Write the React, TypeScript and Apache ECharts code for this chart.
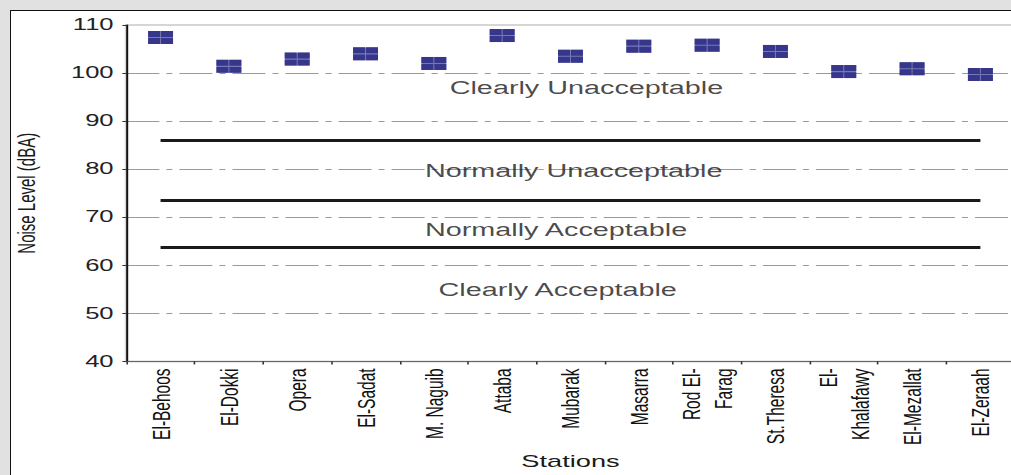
import React, { useEffect, useRef } from "react";
import * as echarts from "echarts";

// ---- data ----
const stations = [
  "El-Behoos",
  "El-Dokki",
  "Opera",
  "El-Sadat",
  "M. Naguib",
  "Attaba",
  "Mubarak",
  "Masarra",
  "Rod El-\nFarag",
  "St.Theresa",
  "El-\nKhalafawy",
  "El-Mezallat",
  "El-Zeraah",
];
const noiseLevels = [107.4, 101.4, 102.9, 104.0, 102.0, 107.8, 103.5, 105.6, 105.8, 104.5, 100.3, 100.9, 99.7];
const thresholds = [86, 73.5, 63.7];
const zoneNames = ["Clearly Unacceptable", "Normally Unacceptable", "Normally Acceptable", "Clearly Acceptable"];
const zoneValues = [97.0, 79.8, 67.5, 54.9];
const zoneAnchor = "Mubarak";
const yMin = 40;
const yMax = 110;
const yStep = 10;

// ---- layout (the source picture is stretched horizontally) ----
const STRETCH = 1.6;
const NAT_W = 640;
const H = 475;
const zoneOffsets = [10, 2, -9, -8];
const FONT = "'Liberation Sans', Arial, sans-serif";

const markerFront =
  "path://M0,0H11.5V5.5H0Z M12.5,0H24V5.5H12.5Z M0,6.5H11.5V12H0Z M12.5,6.5H24V12H12.5Z";

export default function App() {
  const ref = useRef<HTMLDivElement>(null);

  useEffect(() => {
    if (!ref.current) return;
    const chart = echarts.init(ref.current, undefined, { renderer: "svg" });
    const first = stations[0];
    const last = stations[stations.length - 1];
    chart.setOption({
      animation: false,
      backgroundColor: "transparent",
      textStyle: { fontFamily: FONT },
      grid: {
        left: 79,
        right: NAT_W - 634.1,
        top: 25,
        bottom: H - 366.7,
        show: true,
        borderColor: "#d6d6d6",
        borderWidth: 2,
        backgroundColor: "transparent",
      },
      xAxis: {
        type: "category",
        data: stations,
        boundaryGap: true,
        name: "Stations",
        nameLocation: "middle",
        nameGap: 90,
        nameTextStyle: { fontSize: 17, color: "#1a1a1a", fontFamily: FONT },
        axisLine: { lineStyle: { color: "#666", width: 1 } },
        axisTick: { show: true, length: 3, lineStyle: { color: "#333" } },
        axisLabel: {
          rotate: 90,
          interval: 0,
          fontSize: 15.5,
          lineHeight: 20,
          margin: 7,
          color: "#111",
          fontFamily: FONT,
        },
        splitLine: { show: false },
      },
      yAxis: {
        type: "value",
        min: yMin,
        max: yMax,
        interval: yStep,
        name: "Noise Level (dBA)",
        nameLocation: "middle",
        nameGap: 55,
        nameTextStyle: { fontSize: 15, color: "#1a1a1a", fontFamily: FONT },
        axisLine: { show: true, lineStyle: { color: "#111", width: 1.25 } },
        axisTick: { show: true, length: 2.5, lineStyle: { color: "#333" } },
        axisLabel: { fontSize: 16, color: "#222", margin: 8, fontFamily: FONT },
        splitLine: {
          show: true,
          showMinLine: false,
          showMaxLine: false,
          lineStyle: { color: "#9a9a9a", width: 1, type: [20.6, 4.4, 3.75, 4.4] },
        },
      },
      series: [
        {
          name: "Thresholds",
          type: "line",
          data: [],
          silent: true,
          markLine: {
            silent: true,
            symbol: ["none", "none"],
            label: { show: false },
            lineStyle: { color: "#1a1a1a", width: 3, type: "solid" },
            data: thresholds.map((v) => [
              { coord: [first, v] },
              { coord: [last, v] },
            ]),
          },
        },
        {
          name: "Zones",
          type: "scatter",
          silent: true,
          symbolSize: 1,
          itemStyle: { color: "transparent" },
          data: zoneValues.map((v, i) => ({
            value: [zoneAnchor, v],
            label: { offset: [zoneOffsets[i], 0] },
          })),
          label: {
            show: true,
            position: "inside",
            fontSize: 18,
            color: "#1a1a1a",
            fontFamily: FONT,
            formatter: (p: any) => zoneNames[p.dataIndex],
          },
          z: 4,
        },
        {
          name: "Noise level back",
          type: "scatter",
          symbol: "rect",
          symbolSize: [15.6, 13],
          itemStyle: { color: "#5656a6" },
          data: noiseLevels,
          z: 5,
        },
        {
          name: "Noise level",
          type: "scatter",
          symbol: markerFront,
          symbolSize: [15.6, 13],
          itemStyle: { color: "#25257f" },
          data: noiseLevels,
          z: 6,
        },
      ],
    });
    return () => chart.dispose();
  }, []);

  return (
    <div
      style={{
        position: "fixed",
        left: 0,
        top: 0,
        width: 1011,
        height: H,
        overflow: "hidden",
        background: "#e1e1e1",
      }}
    >
      <div
        style={{
          position: "absolute",
          left: 10,
          top: 10,
          right: 0,
          bottom: 0,
          borderLeft: "1.5px solid #111",
          borderTop: "1.5px solid #111",
          background: "#fff",
        }}
      />
      <div
        ref={ref}
        style={{
          position: "absolute",
          left: 0,
          top: 0,
          width: NAT_W,
          height: H,
          transform: `scaleX(${STRETCH})`,
          transformOrigin: "0 0",
        }}
      />
    </div>
  );
}
